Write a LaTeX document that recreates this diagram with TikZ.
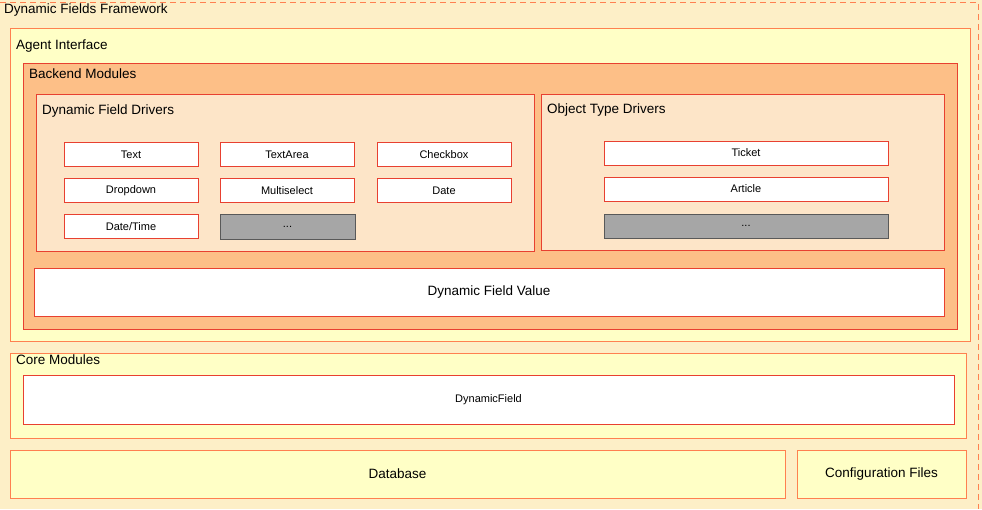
\documentclass[tikz,border=0pt]{standalone}
\usepackage{fontspec}
\setmainfont{Liberation Sans}
\begin{document}
\begin{tikzpicture}[x=1pt,y=-1pt,
  lay/.style={draw=#1,line width=0.8pt},
  box/.style={draw=rbord,fill=white,line width=0.8pt},
  gbox/.style={draw=gray!70!black,fill=gray!70,line width=0.6pt},
  ttl/.style={anchor=north west,inner sep=0pt,font=\fontsize{13.5}{15}\selectfont},
  lbl/.style={font=\fontsize{11}{13}\selectfont},
  big/.style={font=\fontsize{13.5}{15}\selectfont}]
\definecolor{outerf}{HTML}{FDEFC7}
\definecolor{yel}{HTML}{FFFFC6}
\definecolor{org}{HTML}{FDBF87}
\definecolor{peach}{HTML}{FDE5C8}
\definecolor{obord}{HTML}{FF8050}
\definecolor{rbord}{HTML}{E84030}
\useasboundingbox (0,0) rectangle (982,509);
\fill[outerf] (0,0) rectangle (982,509);
\draw[obord,dashed,line width=0.8pt,dash pattern=on 6pt off 4pt] (0,2) -- (978,2) -- (978,509);
\node[ttl] (tfw) at (4,4) {Dynamic Fields Framework};
% Agent interface
\draw[lay=obord,fill=yel] (10,28) rectangle (970,341);
\node[ttl] (tai) at (16,40) {Agent Interface};
\draw[lay=rbord,fill=org] (23,63) rectangle (957,329);
\node[ttl] (tbm) at (29,69) {Backend Modules};
\draw[lay=rbord,fill=peach] (36,94) rectangle (534,251);
\node[ttl] (tdfd) at (42,105) {Dynamic Field Drivers};
\draw[lay=rbord,fill=peach] (541,94) rectangle (944,250);
\node[ttl] (totd) at (547,104) {Object Type Drivers};
\foreach \n/\x/\y/\t in {a/64/142/Text,b/220/142/TextArea,c/377/142/Checkbox,d/64/178/Dropdown,e/220/178/Multiselect,f/377/178/Date,g/64/214/Date\slash Time}{
  \draw[box] (\x,\y) rectangle ++(134,24);
  \node[lbl] (n\n) at (\x+67,\y+12.5) {\t};
}
\draw[gbox] (220,214) rectangle (355,239);
\node[lbl] (nh) at (287.5,226.5) {...};
\draw[box] (604,141) rectangle (888,165);
\node[lbl] (tk) at (746,153) {Ticket};
\draw[box] (604,177) rectangle (888,201);
\node[lbl] (ar) at (746,189) {Article};
\draw[gbox] (604,214) rectangle (888,238);
\node[lbl] (od) at (746,226) {...};
\draw[box] (34,268) rectangle (944,316);
\node[big] (dfv) at (489,292) {Dynamic Field Value};
% Core
\draw[lay=obord,fill=yel] (10,353) rectangle (966,438);
\node[ttl] (tcm) at (16,355) {Core Modules};
\draw[box] (23,375) rectangle (954,424);
\node[lbl] (df) at (488.5,399.5) {DynamicField};
% bottom
\draw[lay=obord,fill=yel] (10,450) rectangle (785,498);
\node[big] (db) at (397.5,474) {Database};
\draw[lay=obord,fill=yel] (797,450) rectangle (966,498);
\node[big] (cf) at (881.5,474) {Configuration Files};
\end{tikzpicture}
\end{document}
